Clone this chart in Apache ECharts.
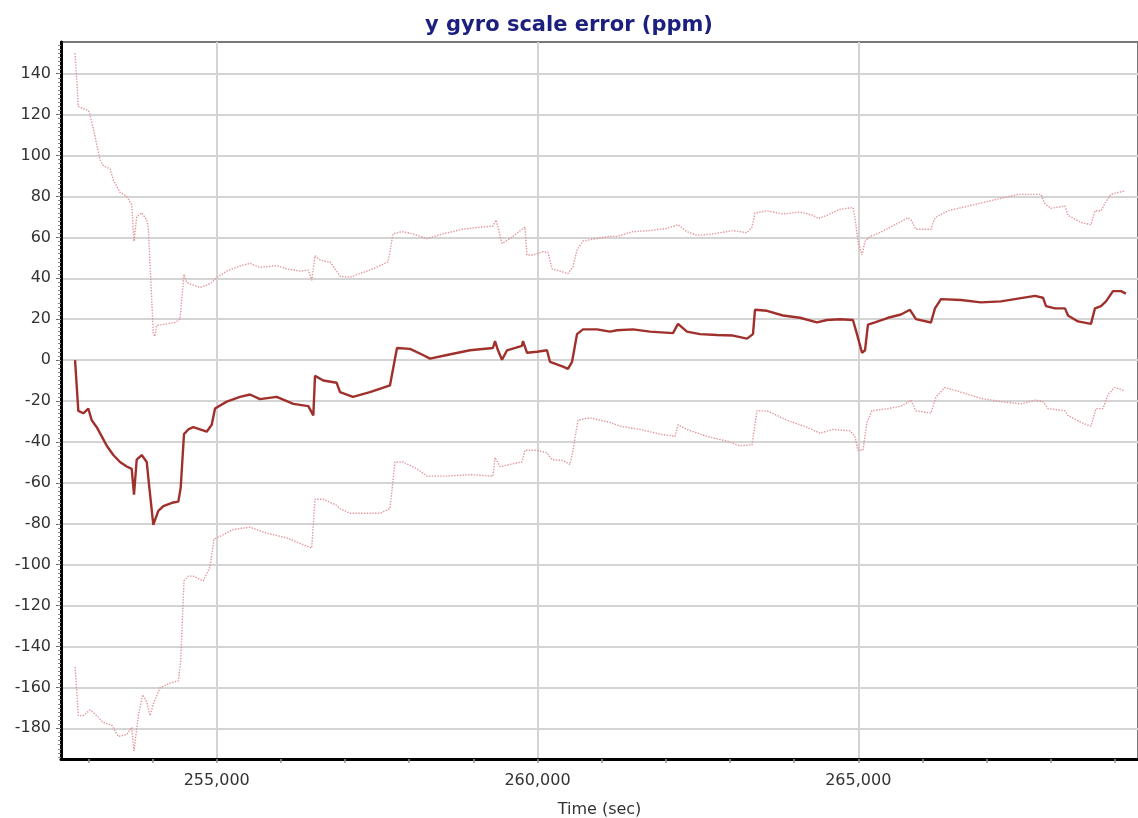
<!DOCTYPE html>
<html>
<head>
<meta charset="utf-8">
<script src="https://cdn.jsdelivr.net/npm/echarts@6/dist/echarts.min.js"></script>
<style>
html,body{margin:0;padding:0;background:#fff;}
#chart{width:1138px;height:818px;}
</style>
</head>
<body>
<div id="chart"></div>
<script>
const titleText = 'y gyro scale error (ppm)';
const xName = 'Time (sec)';
const xMin = 252573, xMax = 269360;
const yMin = -195, yMax = 155.5;
const xTickLabels = [255000, 260000, 265000];
const yTickLabels = [-180,-160,-140,-120,-100,-80,-60,-40,-20,0,20,40,60,80,100,120,140];
const xMinorTicks = [253000,254000,255000,256000,257000,258000,259000,260000,261000,262000,263000,264000,265000,266000,267000,268000,269000];
const yMinorTicks = [];
for (let v = -194; v <= 154; v += 2) yMinorTicks.push(v);

const upperT = [252792,252843,252999,253025,253077,253181,253233,253337,253388,253493,253597,253675,253711,253753,253831,253909,253934,254012,254038,254065,254221,254350,254428,254490,254532,254635,254740,254844,254922,254989,255156,255363,255519,255675,255935,256091,256298,256428,256481,256532,256610,256714,256766,256844,256922,257078,257233,257436,257670,257748,257888,258060,258278,258527,258839,259104,259306,259353,259384,259447,259571,259758,259805,259836,259930,260086,260164,260226,260351,260475,260553,260616,260709,260927,261130,261239,261488,261753,262018,262190,262330,262486,262735,263047,263265,263343,263390,263577,263826,264091,264294,264372,264512,264715,264917,264949,264995,265058,265105,265182,265338,265572,265775,265821,265899,266133,266195,266398,266710,267022,267333,267489,267847,267910,268003,268222,268269,268471,268627,268689,268783,268861,268939,269157];
const upperV = [150,124,122,120,113,98,95,93.5,88,82,80,76,58,70,72,68.5,65,12.7,11.6,17,17.7,18.4,20,42,38,36.6,35.5,36.6,38,40,43.5,46,47.3,45.3,46.2,44.6,43.5,44,39,51,49,48,48,44.6,41,40.5,42.3,44.6,48,61.7,62.8,61.7,59.4,61.7,64,65,65.5,68.5,65,57,59.4,64,65,51.4,51.4,53,52.6,44.6,43.5,42.3,45.7,53.7,58.2,59.4,60.5,60.5,62.8,63.3,64.4,66.2,62.8,61,61.7,63.3,62.3,65,71.9,73,71.4,72.4,70.8,69.2,70.8,73.7,74.6,69.6,58,51.4,58,60.5,62.3,66.2,69.6,68.5,64,64,69.6,73,75.3,77.6,79.9,81,81,76.4,74.2,75.3,70.8,67.3,66.2,73,73,77.6,81,82.8];

const middleT = [252792,252843,252921,252999,253052,253130,253208,253286,253388,253493,253597,253675,253711,253753,253831,253909,253950,254012,254038,254090,254168,254324,254402,254439,254490,254557,254635,254740,254844,254922,254974,255156,255363,255519,255675,255935,256194,256428,256506,256532,256661,256870,256922,257124,257389,257701,257810,258013,258215,258324,258589,258948,259306,259338,259384,259447,259525,259758,259774,259836,259992,260148,260195,260397,260475,260538,260616,260709,260927,261130,261239,261488,261753,262112,262190,262330,262533,262798,263047,263265,263359,263390,263577,263826,264091,264356,264512,264715,264917,264980,265058,265105,265151,265261,265463,265665,265806,265899,266133,266195,266289,266601,266912,267224,267536,267754,267879,267926,268066,268222,268269,268424,268627,268689,268783,268861,268970,269095,269172];
const middleV = [0,-24.8,-26,-23.7,-29.4,-32.8,-37.3,-41.9,-46.4,-49.8,-52,-53.2,-65.8,-48.7,-46.4,-49.8,-62.3,-80.5,-80.5,-73.7,-71.4,-69.6,-69.2,-62.3,-36.2,-33.9,-32.8,-33.9,-35,-31.6,-23.7,-20.3,-18,-16.8,-19.1,-18,-21.4,-22.5,-27,-7.7,-10,-11.1,-15.7,-18,-15.7,-12.3,5.9,5.5,2.5,0.7,2.5,4.8,5.9,9.3,4.8,0.2,4.8,7,9.3,3.6,4.1,4.8,-0.9,-3.2,-4.3,-0.9,12.7,15,15,13.9,14.6,15,13.9,13.2,17.7,13.9,12.7,12.3,12,10.5,12.7,24.6,24.1,21.8,20.7,18.4,19.6,20,19.6,12.7,3.6,4.8,17.3,18.4,20.7,22.3,24.6,20,18.4,25.3,29.8,29.4,28.2,28.7,30.3,31.4,30.5,26.4,25.3,25.3,21.8,18.9,17.7,25.3,26.4,28.7,33.7,33.7,32.5];

const lowerT = [252792,252843,252921,253025,253130,253233,253363,253466,253597,253675,253711,253778,253847,253909,253960,254012,254116,254272,254402,254439,254490,254557,254635,254791,254896,254958,255051,255259,255519,255779,256091,256298,256481,256532,256661,256870,256922,257078,257280,257545,257701,257779,257904,258122,258278,258589,258948,259306,259338,259416,259571,259758,259805,259992,260148,260226,260397,260507,260553,260631,260818,261130,261286,261598,261909,262143,262190,262330,262642,262954,263156,263343,263421,263577,263889,264200,264403,264606,264871,264949,264995,265073,265135,265213,265463,265665,265821,265899,266133,266211,266351,266601,266912,267224,267536,267754,267879,267957,268222,268269,268471,268627,268705,268814,268892,269001,269157];
const lowerV = [-150,-173.8,-173.8,-171,-173.8,-177.2,-178.4,-184,-183,-179.5,-191,-173.8,-163.6,-167,-173.8,-168.1,-160.2,-157.9,-156.8,-146.6,-107.9,-105.6,-105.6,-107.9,-101,-87.4,-86.2,-82.8,-81.7,-84.6,-86.9,-89.6,-91.9,-68,-68,-71,-72.6,-74.9,-74.9,-74.9,-72.6,-49.8,-49.8,-53.2,-56.7,-56.7,-56,-56.7,-47.6,-52.1,-51,-49.8,-44.1,-44.1,-45.3,-48.7,-49.1,-51,-44.1,-29.4,-28.2,-30.5,-32.3,-33.9,-36.2,-37.3,-31.6,-33.9,-37.3,-39.6,-41.9,-41.4,-24.8,-24.8,-29.4,-32.8,-35.7,-33.9,-34.6,-37.3,-44.1,-44.1,-30.5,-24.8,-23.7,-22.5,-19.8,-24.8,-25.9,-18,-13.4,-15.7,-18.7,-20.3,-21.4,-19.6,-20.3,-23.7,-24.8,-27,-30.5,-32.3,-23.7,-23.7,-16.8,-13.4,-15];

function zip(t, v) { const n = Math.min(t.length, v.length); const out = []; for (let i = 0; i < n; i++) out.push([t[i], v[i]]); return out; }

const FONT = 'DejaVu Sans';
const chart = echarts.init(document.getElementById('chart'), null, {renderer: 'canvas'});
chart.setOption({
  animation: false,
  backgroundColor: '#ffffff',
  title: {
    text: titleText, left: 'center', top: 10,
    textStyle: {fontFamily: FONT, fontSize: 21, fontWeight: 'bold', color: '#1c1f7e'}
  },
  grid: {left: 61, right: 0, top: 42, bottom: 59, show: true, borderColor: '#777777', borderWidth: 2,
    backgroundColor: '#ffffff', containLabel: false, outerBoundsMode: 'none'},
  xAxis: [{
    type: 'value', min: xMin, max: xMax, position: 'bottom',
    name: xName, nameLocation: 'middle', nameGap: 43,
    nameTextStyle: {fontFamily: FONT, fontSize: 16, color: '#333333'},
    axisLine: {show: true, onZero: false, lineStyle: {color: '#000000', width: 3}},
    axisTick: {show: false, customValues: xTickLabels},
    axisLabel: {customValues: xTickLabels, fontFamily: FONT, fontSize: 16, color: '#333333', margin: 14,
      formatter: v => Number(v).toLocaleString('en-US')},
    splitLine: {show: true, lineStyle: {color: '#d4d4d4', width: 2}}
  }, {
    type: 'value', min: xMin, max: xMax, position: 'bottom',
    axisLine: {show: false, onZero: false},
    axisTick: {show: true, customValues: xMinorTicks, length: 4, lineStyle: {color: '#999999', width: 1.5}},
    axisLabel: {show: false},
    splitLine: {show: false}
  }],
  yAxis: [{
    type: 'value', min: yMin, max: yMax, position: 'left',
    axisLine: {show: true, onZero: false, lineStyle: {color: '#000000', width: 3}},
    axisTick: {show: true, customValues: yTickLabels, length: 5, lineStyle: {color: '#666666', width: 1}},
    axisLabel: {customValues: yTickLabels, fontFamily: FONT, fontSize: 16, color: '#333333', margin: 10},
    splitLine: {show: true, lineStyle: {color: '#d4d4d4', width: 2}}
  }, {
    type: 'value', min: yMin, max: yMax, position: 'left',
    axisLine: {show: false, onZero: false},
    axisTick: {show: true, customValues: yMinorTicks, length: 3, lineStyle: {color: '#888888', width: 1}},
    axisLabel: {show: false},
    splitLine: {show: false}
  }],
  series: [{
    name: 'upper', type: 'line', xAxisIndex: 0, yAxisIndex: 0, showSymbol: false, symbol: 'none',
    data: zip(upperT, upperV),
    lineStyle: {color: '#e2959a', width: 1.4, type: 'dotted'}, z: 3
  }, {
    name: 'lower', type: 'line', xAxisIndex: 0, yAxisIndex: 0, showSymbol: false, symbol: 'none',
    data: zip(lowerT, lowerV),
    lineStyle: {color: '#e2959a', width: 1.4, type: 'dotted'}, z: 3
  }, {
    name: 'estimate', type: 'line', xAxisIndex: 0, yAxisIndex: 0, showSymbol: false, symbol: 'none',
    data: zip(middleT, middleV),
    lineStyle: {color: '#a0302b', width: 2.4}, z: 4
  }]
});
</script>
</body>
</html>
